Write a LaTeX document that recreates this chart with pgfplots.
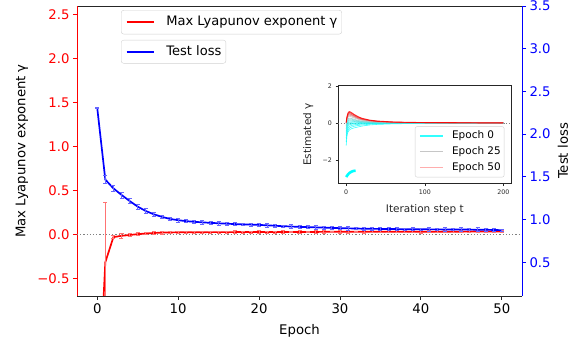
\documentclass[border=0pt]{standalone}
\usepackage{fontspec}
\setmainfont{DejaVu Sans}
\usepackage{pgfplots}
\pgfplotsset{compat=1.18}
\usepackage{pgfplotstable}

\definecolor{spine}{rgb}{0.15,0.15,0.15}
\definecolor{dotgray}{rgb}{0.5,0.5,0.5}
\definecolor{legframe}{rgb}{0.82,0.82,0.82}
\definecolor{epgray}{rgb}{0.72,0.72,0.72}
\definecolor{cy}{rgb}{0,1,1}
\definecolor{rd}{rgb}{1,0,0}
\definecolor{bl}{rgb}{0,0,1}

\pgfplotstableread{
e  lyap    lerr   loss   serr
0  -2.200  0.000  2.308  0.010
1  -0.316  0.680  1.468  0.045
2  -0.030  0.020  1.366  0.030
3  -0.015  0.025  1.289  0.035
4  -0.006  0.020  1.218  0.030
5   0.004  0.018  1.152  0.030
6   0.011  0.015  1.101  0.025
7   0.017  0.015  1.062  0.020
8   0.021  0.015  1.032  0.020
9   0.023  0.012  1.008  0.020
10  0.025  0.012  0.993  0.020
11  0.026  0.012  0.982  0.020
12  0.026  0.010  0.974  0.015
13  0.026  0.012  0.968  0.020
14  0.027  0.010  0.962  0.015
15  0.027  0.012  0.957  0.020
16  0.027  0.010  0.952  0.015
17  0.027  0.015  0.948  0.020
18  0.028  0.010  0.944  0.015
19  0.028  0.012  0.941  0.020
20  0.028  0.015  0.938  0.015
21  0.028  0.010  0.933  0.020
22  0.028  0.012  0.928  0.020
23  0.029  0.015  0.923  0.015
24  0.029  0.010  0.919  0.020
25  0.029  0.015  0.915  0.020
26  0.029  0.010  0.912  0.015
27  0.029  0.012  0.909  0.020
28  0.030  0.015  0.906  0.015
29  0.030  0.010  0.903  0.020
30  0.030  0.012  0.900  0.015
31  0.030  0.015  0.898  0.020
32  0.030  0.010  0.896  0.015
33  0.030  0.012  0.893  0.020
34  0.031  0.010  0.892  0.015
35  0.031  0.012  0.891  0.020
36  0.031  0.010  0.890  0.015
37  0.031  0.012  0.889  0.020
38  0.031  0.010  0.888  0.015
39  0.031  0.012  0.888  0.020
40  0.032  0.015  0.887  0.015
41  0.032  0.010  0.886  0.020
42  0.032  0.012  0.886  0.015
43  0.032  0.010  0.885  0.025
44  0.032  0.012  0.885  0.015
45  0.032  0.010  0.884  0.020
46  0.033  0.012  0.883  0.015
47  0.033  0.010  0.882  0.025
48  0.033  0.012  0.881  0.015
49  0.033  0.010  0.879  0.020
50  0.033  0.012  0.876  0.015
}\maindata

\pgfplotstableread{
t    c1     c2     c3     c4     c5     c6     c8     c10    c12    c15    c18    c25    c30    c35    c40    c45    c50
0   -1.20  -1.00  -0.80  -0.65  -0.50  -0.42  -0.30  -0.22  -0.15  -0.10  -0.05   0.00   0.03   0.035  0.04   0.045  0.05
1   -0.70  -0.55  -0.45  -0.35  -0.25  -0.18  -0.10  -0.04   0.02   0.07   0.12   0.20   0.24   0.27   0.30   0.33   0.35
2   -0.50  -0.40  -0.30  -0.20  -0.12  -0.06   0.00   0.06   0.12   0.17   0.22   0.30   0.36   0.40   0.44   0.48   0.52
3   -0.42  -0.32  -0.22  -0.13  -0.06   0.00   0.05   0.11   0.16   0.22   0.27   0.36   0.42   0.47   0.51   0.56   0.60
4   -0.37  -0.27  -0.18  -0.09  -0.03   0.02   0.07   0.13   0.18   0.23   0.28   0.38   0.44   0.49   0.54   0.59   0.63
5   -0.33  -0.24  -0.15  -0.07  -0.02   0.03   0.08   0.13   0.18   0.23   0.28   0.37   0.43   0.48   0.53   0.58   0.62
7   -0.29  -0.20  -0.12  -0.05  -0.01   0.03   0.08   0.12   0.17   0.22   0.26   0.34   0.40   0.44   0.48   0.53   0.57
10  -0.25  -0.16  -0.09  -0.04  -0.01   0.02   0.07   0.10   0.14   0.18   0.22   0.29   0.34   0.38   0.41   0.45   0.48
15  -0.20  -0.12  -0.06  -0.03   0.00   0.02   0.05   0.08   0.10   0.13   0.16   0.22   0.25   0.28   0.31   0.34   0.36
20  -0.15  -0.09  -0.04  -0.02   0.00   0.01   0.04   0.06   0.08   0.10   0.12   0.16   0.19   0.21   0.23   0.25   0.27
30  -0.09  -0.05  -0.02  -0.01   0.00   0.01   0.025  0.04   0.05   0.065  0.08   0.10   0.12   0.135  0.15   0.16   0.17
40  -0.06  -0.03  -0.01   0.00   0.00   0.00   0.02   0.03   0.035  0.045  0.055  0.07   0.085  0.092  0.10   0.11   0.12
60  -0.03  -0.01   0.00   0.00   0.00   0.00   0.01   0.015  0.02   0.028  0.035  0.045  0.05   0.055  0.06   0.065  0.07
80  -0.015  0.00   0.00   0.00   0.00   0.00   0.01   0.01   0.015  0.02   0.025  0.035  0.04   0.042  0.045  0.048  0.05
100 -0.01   0.00   0.00   0.00   0.00   0.00   0.005  0.01   0.01   0.015  0.02   0.025  0.03   0.032  0.035  0.038  0.04
150  0.00   0.00   0.00   0.00   0.00   0.00   0.00   0.005  0.01   0.01   0.015  0.02   0.02   0.022  0.025  0.028  0.03
200  0.00   0.00   0.00   0.00   0.00   0.00   0.00   0.00   0.005  0.008  0.01   0.015  0.015  0.018  0.02   0.02   0.02
}\insetdata

\pgfplotstableread{
t   g
0   -2.90
1   -2.84
2   -2.78
3   -2.73
4   -2.69
6   -2.63
8   -2.59
10  -2.57
12  -2.56
}\epochzero

\newcommand{\mainfont}{\fontsize{13.3}{16}\selectfont}
\newcommand{\legfont}{\fontsize{13.1}{15.5}\selectfont}
\newcommand{\insetlab}{\fontsize{10.5}{12.5}\selectfont}
\newcommand{\insettick}{\fontsize{6.3}{7.5}\selectfont}

\begin{document}
\begin{tikzpicture}
\useasboundingbox (-77bp,-45bp) rectangle (497bp,296bp);

% ---------- left axis: Lyapunov exponent ----------
\begin{axis}[
  scale only axis, width=445bp, height=290bp,
  xmin=-2.5, xmax=52.5, ymin=-0.7, ymax=2.6,
  separate axis lines,
  axis x line*=box, axis y line*=left,
  xtick pos=left,
  x axis line style={spine, line width=0.8bp},
  y axis line style={rd, line width=0.8bp},
  tick align=outside, major tick length=4bp,
  xtick={0,10,20,30,40,50}, xticklabels={0,10,20,30,40,50},
  ytick={-0.5,0,0.5,1,1.5,2,2.5},
  yticklabels={−0.5,0.0,0.5,1.0,1.5,2.0,2.5},
  xtick style={spine, line width=0.8bp},
  ytick style={rd, line width=0.8bp},
  yticklabel style={text=rd},
  ticklabel style={font=\mainfont},
  label style={font=\mainfont},
  xlabel={Epoch}, ylabel={Max Lyapunov exponent γ},
  xlabel style={at={(axis description cs:0.5,0)}, anchor=center, yshift=-35bp},
  ylabel style={at={(axis description cs:0,0.5)}, anchor=center, yshift=55bp},
  legend image code/.code={\draw[#1] (0bp,0bp) -- (27bp,0bp);},
  legend style={at={(axis description cs:0.0989,0.986)}, anchor=north west,
    draw=legframe, fill=white, rounded corners=2.5bp, font=\legfont,
    inner xsep=4.5bp, inner ysep=5.4bp, column sep=12bp,
    nodes={inner sep=0bp, text height=9.9bp, text depth=3.1bp}},
  legend cell align=left,
]
\addplot[dotgray, line width=1.3bp, dash pattern=on 1.3bp off 1.9bp, forget plot]
  coordinates {(-2.5,0) (52.5,0)};
\addplot[rd, line width=1.7bp, forget plot,
  error bars/.cd, y dir=both, y explicit,
  error bar style={rd!55, line width=0.8bp},
  error mark options={rd!55, mark size=2bp, line width=0.8bp, rotate=90}]
  table[x=e, y=lyap, y error=lerr] {\maindata};
\addlegendimage{rd, line width=1.6bp}
\addlegendentry{Max Lyapunov exponent γ}
\end{axis}

% ---------- right axis: Test loss ----------
\begin{axis}[
  scale only axis, width=445bp, height=290bp,
  xmin=-2.5, xmax=52.5, ymin=0.106, ymax=3.5,
  axis x line=none, axis y line*=right,
  y axis line style={bl, line width=0.8bp},
  tick align=outside, major tick length=4bp,
  ytick={0.5,1,1.5,2,2.5,3,3.5},
  yticklabels={0.5,1.0,1.5,2.0,2.5,3.0,3.5},
  ytick style={bl, line width=0.8bp},
  yticklabel style={text=bl},
  ticklabel style={font=\mainfont},
  label style={font=\mainfont},
  ylabel={Test loss},
  ylabel style={at={(axis description cs:1,0.5)}, anchor=center, yshift=-41bp},
  legend image code/.code={\draw[#1] (0bp,0bp) -- (27bp,0bp);},
  legend style={at={(axis description cs:0.0989,0.883)}, anchor=north west,
    draw=legframe, fill=white, rounded corners=2.5bp, font=\legfont,
    inner xsep=4.5bp, inner ysep=5.1bp, column sep=12bp,
    nodes={inner sep=0bp, text height=9.9bp, text depth=3.1bp}},
  legend cell align=left,
]
\addplot[bl, line width=1.7bp, forget plot,
  error bars/.cd, y dir=both, y explicit,
  error bar style={bl!60, line width=0.8bp},
  error mark options={bl!60, mark size=2bp, line width=0.8bp, rotate=90}]
  table[x=e, y=loss, y error=serr] {\maindata};
\addlegendimage{bl, line width=1.6bp}
\addlegendentry{Test loss}
\end{axis}

% ---------- inset ----------
\begin{axis}[
  at={(261.3bp,112.7bp)}, anchor=south west,
  scale only axis, width=173bp, height=97.6bp,
  xmin=-10, xmax=210, ymin=-3.24, ymax=2.03,
  axis background/.style={fill=white},
  axis line style={spine, line width=0.8bp},
  tick align=outside, major tick length=2.8bp,
  tick style={spine, line width=0.6bp},
  tick pos=left,
  xtick={0,100,200}, xticklabels={0,100,200},
  ytick={-2,0,2}, yticklabels={−2,0,2},
  ticklabel style={font=\insettick, text=spine},
  label style={font=\insetlab, text=spine},
  xlabel={Iteration step t}, ylabel={Estimated γ},
  xlabel style={at={(axis description cs:0.5,0)}, anchor=center, yshift=-26bp},
  ylabel style={at={(axis description cs:0,0.5)}, anchor=center, yshift=30bp},
  legend image code/.code={\draw[#1] (0bp,0bp) -- (23.6bp,0bp);},
  legend style={at={(axis description cs:0.960,0.0615)}, anchor=south east,
    draw=legframe, fill=white, rounded corners=2bp, font=\insetlab,
    inner xsep=3.4bp, inner ysep=4bp, column sep=7.4bp, row sep=5.5bp,
    nodes={inner sep=0bp, text height=8bp, text depth=2.5bp}},
  legend cell align=left,
  every axis plot/.append style={line width=0.6bp, opacity=0.8, forget plot},
]
\addplot[dotgray, line width=1.1bp, opacity=1, dash pattern=on 1.1bp off 1.7bp]
  coordinates {(-10,0) (210,0)};
\addplot[cy] table[x=t, y=c1] {\insetdata};
\addplot[cy!96!epgray] table[x=t, y=c2] {\insetdata};
\addplot[cy!92!epgray] table[x=t, y=c3] {\insetdata};
\addplot[cy!88!epgray] table[x=t, y=c4] {\insetdata};
\addplot[cy!84!epgray] table[x=t, y=c5] {\insetdata};
\addplot[cy!80!epgray] table[x=t, y=c6] {\insetdata};
\addplot[cy!72!epgray] table[x=t, y=c8] {\insetdata};
\addplot[cy!62!epgray] table[x=t, y=c10] {\insetdata};
\addplot[cy!52!epgray] table[x=t, y=c12] {\insetdata};
\addplot[cy!40!epgray] table[x=t, y=c15] {\insetdata};
\addplot[cy!28!epgray] table[x=t, y=c18] {\insetdata};
\addplot[epgray] table[x=t, y=c25] {\insetdata};
\addplot[rd!25!epgray] table[x=t, y=c30] {\insetdata};
\addplot[rd!45!epgray] table[x=t, y=c35] {\insetdata};
\addplot[rd!65!epgray] table[x=t, y=c40] {\insetdata};
\addplot[rd!85!epgray] table[x=t, y=c45] {\insetdata};
\addplot[rd, line width=0.9bp] table[x=t, y=c50] {\insetdata};
\addplot[cy, line width=2.6bp, opacity=1] table[x=t, y=g] {\epochzero};
\addlegendimage{cy, line width=2.6bp}
\addlegendentry{Epoch 0}
\addlegendimage{epgray, line width=1bp}
\addlegendentry{Epoch 25}
\addlegendimage{rd!40, line width=1bp}
\addlegendentry{Epoch 50}
\end{axis}
\end{tikzpicture}
\end{document}
